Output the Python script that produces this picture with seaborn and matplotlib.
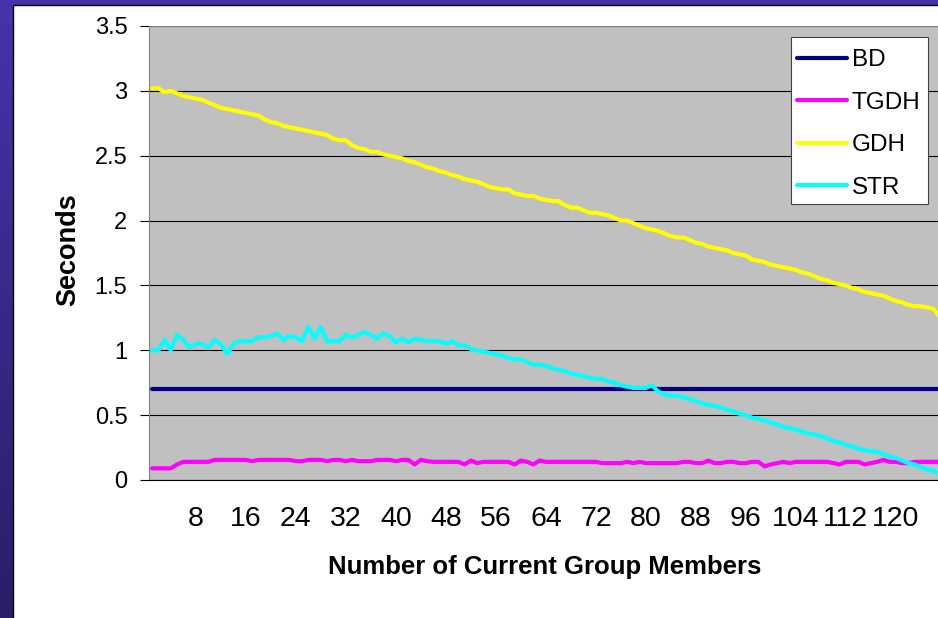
import numpy as np
import pandas as pd
import matplotlib
matplotlib.use("Agg")
import matplotlib.pyplot as plt
from matplotlib.colors import LinearSegmentedColormap
from matplotlib.patches import Rectangle
from matplotlib.lines import Line2D
import seaborn as sns

# ---------------------------------------------------------------- data
members = list(range(1, 128))

bd = [
    0.70, 0.70, 0.70, 0.70, 0.70, 0.70, 0.70, 0.70, 0.70, 0.70,
    0.70, 0.70, 0.70, 0.70, 0.70, 0.70, 0.70, 0.70, 0.70, 0.70,
    0.70, 0.70, 0.70, 0.70, 0.70, 0.70, 0.70, 0.70, 0.70, 0.70,
    0.70, 0.70, 0.70, 0.70, 0.70, 0.70, 0.70, 0.70, 0.70, 0.70,
    0.70, 0.70, 0.70, 0.70, 0.70, 0.70, 0.70, 0.70, 0.70, 0.70,
    0.70, 0.70, 0.70, 0.70, 0.70, 0.70, 0.70, 0.70, 0.70, 0.70,
    0.70, 0.70, 0.70, 0.70, 0.70, 0.70, 0.70, 0.70, 0.70, 0.70,
    0.70, 0.70, 0.70, 0.70, 0.70, 0.70, 0.70, 0.70, 0.70, 0.70,
    0.70, 0.70, 0.70, 0.70, 0.70, 0.70, 0.70, 0.70, 0.70, 0.70,
    0.70, 0.70, 0.70, 0.70, 0.70, 0.70, 0.70, 0.70, 0.70, 0.70,
    0.70, 0.70, 0.70, 0.70, 0.70, 0.70, 0.70, 0.70, 0.70, 0.70,
    0.70, 0.70, 0.70, 0.70, 0.70, 0.70, 0.70, 0.70, 0.70, 0.70,
    0.70, 0.70, 0.70, 0.70, 0.70, 0.70, 0.70,
]

tgdh = [
    0.09, 0.09, 0.09, 0.09, 0.12, 0.14, 0.14, 0.14, 0.14, 0.14,
    0.155, 0.155, 0.155, 0.155, 0.155, 0.155, 0.145, 0.155, 0.155, 0.155,
    0.155, 0.155, 0.155, 0.145, 0.145, 0.155, 0.155, 0.155, 0.145, 0.155,
    0.155, 0.145, 0.155, 0.145, 0.145, 0.145, 0.155, 0.155, 0.155, 0.145,
    0.155, 0.155, 0.12, 0.155, 0.145, 0.14, 0.14, 0.14, 0.14, 0.14,
    0.12, 0.15, 0.13, 0.14, 0.14, 0.14, 0.14, 0.14, 0.12, 0.15,
    0.14, 0.12, 0.15, 0.14, 0.14, 0.14, 0.14, 0.14, 0.14, 0.14,
    0.14, 0.14, 0.13, 0.13, 0.13, 0.13, 0.14, 0.13, 0.14, 0.13,
    0.13, 0.13, 0.13, 0.13, 0.13, 0.14, 0.14, 0.13, 0.13, 0.15,
    0.13, 0.13, 0.14, 0.14, 0.13, 0.13, 0.14, 0.14, 0.105, 0.12,
    0.13, 0.14, 0.13, 0.14, 0.14, 0.14, 0.14, 0.14, 0.14, 0.13,
    0.12, 0.14, 0.14, 0.14, 0.12, 0.13, 0.14, 0.155, 0.14, 0.14,
    0.13, 0.13, 0.14, 0.14, 0.14, 0.14, 0.14,
]

gdh = [
    3.02, 3.02, 2.99, 3.00, 2.98, 2.96, 2.95, 2.94, 2.93, 2.91,
    2.89, 2.87, 2.86, 2.85, 2.84, 2.83, 2.82, 2.81, 2.78, 2.76,
    2.75, 2.73, 2.72, 2.71, 2.70, 2.69, 2.68, 2.67, 2.66, 2.63,
    2.62, 2.62, 2.58, 2.56, 2.55, 2.53, 2.53, 2.51, 2.50, 2.49,
    2.48, 2.46, 2.45, 2.43, 2.41, 2.40, 2.38, 2.37, 2.35, 2.34,
    2.32, 2.31, 2.30, 2.28, 2.26, 2.25, 2.24, 2.24, 2.21, 2.20,
    2.19, 2.19, 2.17, 2.16, 2.15, 2.15, 2.12, 2.10, 2.10, 2.08,
    2.06, 2.06, 2.05, 2.04, 2.02, 2.00, 2.00, 1.98, 1.96, 1.94,
    1.93, 1.92, 1.90, 1.88, 1.87, 1.87, 1.85, 1.83, 1.82, 1.80,
    1.79, 1.78, 1.77, 1.75, 1.74, 1.73, 1.70, 1.69, 1.68, 1.66,
    1.65, 1.64, 1.63, 1.62, 1.60, 1.59, 1.57, 1.55, 1.54, 1.52,
    1.51, 1.50, 1.48, 1.47, 1.45, 1.44, 1.43, 1.42, 1.40, 1.38,
    1.37, 1.35, 1.34, 1.34, 1.33, 1.32, 1.26,
]

strp = [
    1.00, 1.00, 1.08, 1.00, 1.12, 1.08, 1.02, 1.05, 1.05, 1.02,
    1.08, 1.05, 0.97, 1.05, 1.07, 1.07, 1.07, 1.10, 1.10, 1.11,
    1.13, 1.08, 1.11, 1.10, 1.07, 1.18, 1.09, 1.18, 1.07, 1.07,
    1.07, 1.12, 1.10, 1.12, 1.14, 1.12, 1.09, 1.13, 1.11, 1.06,
    1.09, 1.06, 1.09, 1.08, 1.07, 1.07, 1.07, 1.05, 1.07, 1.04,
    1.04, 1.01, 1.00, 0.99, 0.98, 0.97, 0.96, 0.94, 0.93, 0.93,
    0.91, 0.89, 0.89, 0.88, 0.86, 0.85, 0.84, 0.82, 0.81, 0.80,
    0.79, 0.78, 0.78, 0.76, 0.75, 0.73, 0.72, 0.71, 0.71, 0.71,
    0.73, 0.68, 0.66, 0.65, 0.65, 0.64, 0.62, 0.61, 0.59, 0.58,
    0.57, 0.56, 0.54, 0.53, 0.51, 0.50, 0.48, 0.47, 0.46, 0.44,
    0.43, 0.41, 0.40, 0.39, 0.37, 0.36, 0.35, 0.34, 0.32, 0.30,
    0.29, 0.27, 0.26, 0.24, 0.23, 0.22, 0.22, 0.20, 0.18, 0.17,
    0.15, 0.13, 0.12, 0.10, 0.08, 0.07, 0.05,
]

series_names = ["BD", "TGDH", "GDH", "STR"]
series_colors = ["#000080", "#FF00FF", "#FFFF00", "#00FFFF"]

x_tick_values = [8, 16, 24, 32, 40, 48, 56, 64, 72, 80, 88, 96, 104, 112, 120]
y_tick_values = [0, 0.5, 1, 1.5, 2, 2.5, 3, 3.5]
y_tick_labels = ["0", "0.5", "1", "1.5", "2", "2.5", "3", "3.5"]

x_title = "Number of Current Group Members"
y_title = "Seconds"

# ---------------------------------------------------------------- frame
plt.rcParams["font.family"] = ["Liberation Sans", "DejaVu Sans"]

W, H = 938, 618
fig = plt.figure(figsize=(W / 100, H / 100), dpi=100)

# slide backdrop: vertical purple gradient
bg = fig.add_axes([0, 0, 1, 1], zorder=-10)
grad = np.linspace(0, 1, 256).reshape(-1, 1)
cmap = LinearSegmentedColormap.from_list("slide", ["#4634AA", "#2A1E68"])
bg.imshow(grad, aspect="auto", cmap=cmap, extent=[0, 1, 0, 1], origin="upper")
bg.set_axis_off()

# white chart panel
fig.add_artist(Rectangle((12.5 / W, -0.02), 1.0, (H - 4.5) / H + 0.02,
                         transform=fig.transFigure, facecolor="white",
                         edgecolor="black", linewidth=1.0, zorder=-5))

# plot area (runs slightly past the right edge of the canvas)
ax = fig.add_axes([149 / W, (H - 480) / H, 800 / W, 454 / H])
ax.set_facecolor("#C0C0C0")

df = pd.DataFrame({
    "members": members * 4,
    "seconds": bd + tgdh + gdh + strp,
    "series": sum([[n] * len(members) for n in series_names], []),
})

sns.lineplot(data=df, x="members", y="seconds", hue="series",
             hue_order=series_names,
             palette=dict(zip(series_names, series_colors)),
             estimator=None, errorbar=None, linewidth=3.0,
             solid_capstyle="round", solid_joinstyle="round",
             legend=False, ax=ax)

ax.set_xlim(0.5, 128.5)
ax.set_ylim(0, 3.5)

ax.set_yticks(y_tick_values)
ax.set_yticklabels(y_tick_labels)
ax.set_xticks(x_tick_values)
ax.set_xticklabels([str(v) for v in x_tick_values])

ax.yaxis.grid(True, color="black", linewidth=0.8)
ax.xaxis.grid(False)
ax.set_axisbelow(True)

ax.tick_params(axis="y", direction="out", length=6.5, width=0.8,
               color="black", pad=9, labelsize=17, labelcolor="black")
ax.tick_params(axis="x", length=0, pad=18.5, labelsize=20.5,
               labelcolor="black")

for side in ("left", "top", "right"):
    ax.spines[side].set_color("#808080")
    ax.spines[side].set_linewidth(0.8)
ax.spines["bottom"].set_color("black")
ax.spines["bottom"].set_linewidth(0.8)

ax.set_xlabel(x_title, fontsize=18.5, fontweight="bold", va="center")
ax.xaxis.set_label_coords((545 - 149) / 800, -(567 - 480) / 454)
ax.set_ylabel(y_title, fontsize=19.5, fontweight="bold", va="center")
ax.yaxis.set_label_coords((68 - 149) / 800, 0.5 + 3 / 454)

# legend: white box with the four series keys
ax.add_patch(Rectangle((791 / W, 1 - 204 / H), 137 / W, 167 / H,
                       transform=fig.transFigure, facecolor="white",
                       edgecolor="#404040", linewidth=0.8,
                       zorder=4.9, clip_on=False))
handles = [Line2D([0], [0], color=c, linewidth=3.0, solid_capstyle="round")
           for c in series_colors]
leg = ax.legend(handles, series_names, loc="upper right",
                bbox_to_anchor=(928 / W, 1 - 42 / H),
                bbox_transform=fig.transFigure, borderaxespad=0,
                frameon=False, fontsize=17.5, handlelength=2.05,
                handletextpad=0.2, labelspacing=0.84, borderpad=0.3)
leg.set_zorder(5)

fig.savefig("out.png", dpi=100)
